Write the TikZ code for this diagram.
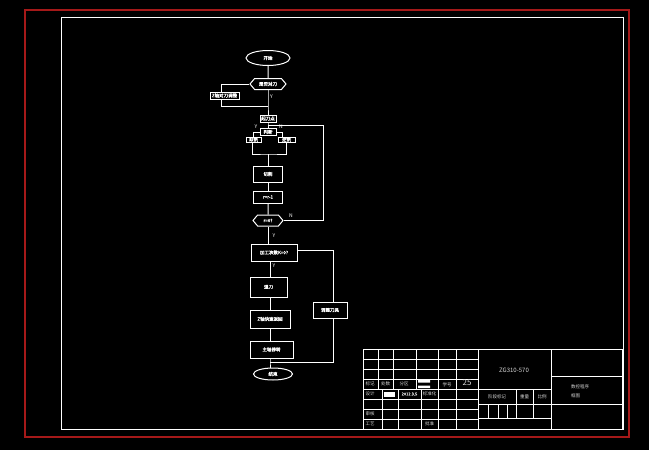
\documentclass[tikz,border=0pt]{standalone}
\usepackage{fontspec}
\setmainfont{Noto Sans CJK SC}[AutoFakeBold=1.5]
\usetikzlibrary{shapes.geometric,shapes.symbols}
\tikzset{ >=latex }
\definecolor{cadred}{RGB}{165,25,25}
\definecolor{cadtxt}{RGB}{215,215,215}
\def\mx{268}      % main column (upper part)
\def\mxb{270}     % main column (lower part)
\def\loopx{323}   % right return line of the r-loop
\def\lw{1pt}      % CAD line weight
\tikzset{
  wire/.style={draw=white, line width=\lw},
  box/.style={draw=white, line width=\lw, rectangle, inner sep=0pt, text=white,
              font=\fontsize{4.5}{5}\selectfont\bfseries},
  term/.style={box, ellipse},
  hexa/.style={box, signal, signal to=west and east, signal pointer angle=100},
  yn/.style={text=white, inner sep=0pt, font=\fontsize{5}{5}\selectfont},
  tb/.style={text=cadtxt, inner sep=0pt, font=\fontsize{4.5}{5}\selectfont},
  grid/.style={draw=white, line width=\lw},
}

\begin{document}
\begin{tikzpicture}[x=1pt,y=-1pt]
    % Sheet
    \fill[black] (0,0) rectangle (649,450);
    \useasboundingbox (0,0) rectangle (649,450);
    \draw[cadred, line width=1.5pt] (25,10) rectangle (629,437);   % outer frame
    \draw[white, line width=\lw] (61,17) rectangle (623,429);      % drawing frame
    % Flow chart nodes
    \node[term, minimum width=44, minimum height=15] (start) at (\mx,58)    {开始};
    \node[hexa, minimum width=36, minimum height=11] (chk)   at (\mx,84)    {是否对刀};
    \node[box,  minimum width=29, minimum height=7]  (zadj)  at (224.5,95.5) {Z轴对刀调整};
    \node[box,  minimum width=16, minimum height=7]  (p0)    at (\mx,118.5) {起刀点};
    \node[box,  minimum width=16, minimum height=7]  (jud)   at (\mx,132)   {判断};
    \node[box,  minimum width=15, minimum height=5]  (lbox)  at (253.5,139.5) {顺铣};
    \node[box,  minimum width=17, minimum height=5]  (rbox)  at (286.5,139.5) {逆铣};
    \node[box,  minimum width=29, minimum height=16] (cut)   at (\mx,174)   {切削};
    \node[box,  minimum width=29, minimum height=12] (dec)   at (\mx,197)   {r=r-1};
    \node[hexa, minimum width=30, minimum height=11] (rz)    at (\mx,220.5) {r=0?};
    \node[box,  minimum width=46, minimum height=17] (kchk)  at (274,252.5) {加工次数K=0?};
    \node[box,  minimum width=34, minimum height=16] (tool)  at (330,310)   {调整刀具};
    \node[box,  minimum width=37, minimum height=20] (tui)   at (268.5,287) {退刀};
    \node[box,  minimum width=40, minimum height=18] (zret)  at (270,319)   {Z轴快速返回};
    \node[box,  minimum width=43, minimum height=17] (stop)  at (271.5,349.5) {主轴停转};
    \node[term, minimum width=39, minimum height=12] (end)   at (273,374)   {结束};
    % Junctions
    \coordinate (mg0) at (\mx,106);     % return of the Z branch
    \coordinate (lp)  at (\mx,125);     % return of the r-loop
    \coordinate (mg1) at (\mx,154);     % merge of both milling branches
    \coordinate (lx)  at (\loopx,0);
    \coordinate (mg2) at (\mxb,362);    % merge before the end
    % Connectors
    \draw[wire] (start) -- (chk);
    \draw[wire] (chk.west) -| ([xshift=-3.5pt]zadj.north);
    \draw[wire] ([xshift=-3.5pt]zadj.south) |- (mg0);
    \draw[wire] (chk.south) -- (mg0) -- (p0.north);
    \draw[wire] (p0.south) -- (lp) -- (jud.north);
    \draw[wire] (jud.west) -| (lbox.north);
    \draw[wire] (jud.east) -| ([xshift=-4.5pt]rbox.north);
    \draw[wire] ([xshift=-1.5pt]lbox.south) |- (mg1) -| (rbox.south);
    \draw[wire] (mg1) -- (cut.north);
    \draw[wire] (cut) -- (dec);
    \draw[wire] (dec) -- (rz);
    \draw[wire] (rz.east) -- (rz.east -| lx) |- (lp);
    \draw[wire] (rz.south) -- (rz.south |- kchk.north);
    \draw[wire] ([yshift=2.5pt]kchk.east) -| ([xshift=3pt]tool.north);
    \draw[wire] ([xshift=3pt]tool.south) |- (mg2);
    \draw[wire] (mg2 |- kchk.south) -- (mg2 |- tui.north);
    \draw[wire] (mg2 |- tui.south) -- (mg2 |- zret.north);
    \draw[wire] (mg2 |- zret.south) -- (mg2 |- stop.north);
    \draw[wire] (mg2 |- stop.south) -- (mg2) -- (mg2 |- end.north);
    % Branch labels
    \node[yn] (y1) at (271.5,97)  {Y};
    \node[yn] (y2) at (256,126.5) {Y};
    \node[yn] (n2) at (281,126.5) {N};
    \node[yn] (n3) at (291,216)   {N};
    \node[yn] (y3) at (274,236)   {Y};
    \node[yn] (y4) at (274,266)   {Y};
    % Title block grid
    \draw[grid] (363,349) rectangle (622,429);
    \draw[grid] (478,349) -- (478,429) (551,349) -- (551,429);
    \foreach \y in {359,369,379,389,399,409,419}
        \draw[grid] (363,\y) -- (478,\y);
    \foreach \x in {378,393,416,438,456}
        \draw[grid] (\x,349) -- (\x,389);
    \foreach \x in {382,398,421,438,456}
        \draw[grid] (\x,389) -- (\x,429);
    \draw[grid] (478,389) -- (551,389) (478,404) -- (622,404)
        (478,418) -- (551,418) (551,376) -- (622,376);
    \foreach \x in {488,498,507}
        \draw[grid] (\x,404) -- (\x,418);
    \foreach \x in {516,533}
        \draw[grid] (\x,389) -- (\x,418);
    % Title block entries
    \fill[white] (418,380) rectangle (430,382.5) (418,385.5) rectangle (430,388);
    \fill[white] (384,391.5) rectangle (395,396.5);
    \node[tb] (t1)  at (370,384)   {标记};
    \node[tb] (t2)  at (385.5,384) {处数};
    \node[tb] (t3)  at (404,384)   {分区};
    \node[tb] (t4)  at (447,384.5) {学号};
    \node[tb, font=\fontsize{8}{8}\selectfont] (t5) at (467,383) {25};
    \node[tb] (t6)  at (370,394)   {设计};
    \node[tb, font=\fontsize{4}{4}\selectfont\bfseries] (t7) at (409.5,394) {2012.3.5};
    \node[tb] (t8)  at (429.5,394) {标准化};
    \node[tb] (t9)  at (370,414)   {审核};
    \node[tb] (t10) at (370,424)   {工艺};
    \node[tb] (t11) at (429.5,424) {批准};
    \node[tb] (t12) at (497,397)   {阶段标记};
    \node[tb] (t13) at (524.5,397) {重量};
    \node[tb] (t14) at (542,397)   {比例};
    \node[tb, font=\fontsize{6}{6}\selectfont] (t15) at (514,370) {ZG310-570};
    \node[tb, anchor=west] (t16) at (571,387) {数控程序};
    \node[tb, anchor=west] (t17) at (571,395.5) {框图};
\end{tikzpicture}
\end{document}
